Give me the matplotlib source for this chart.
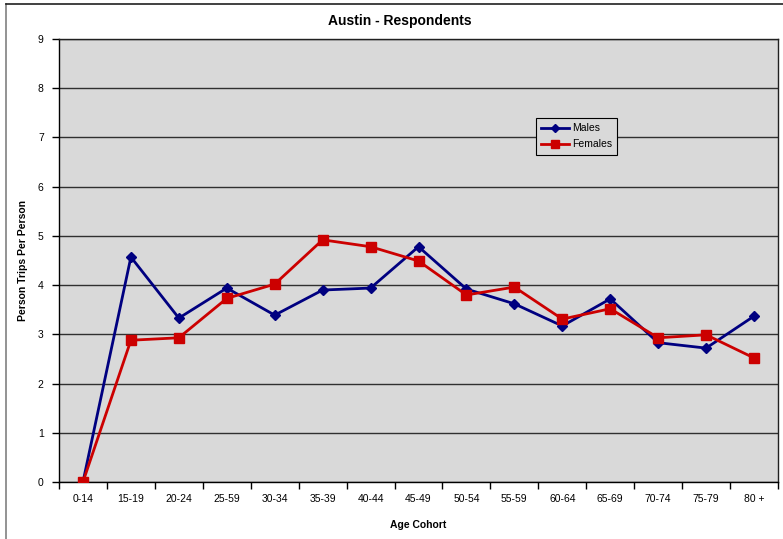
import numpy as np
import matplotlib
matplotlib.use("Agg")
import matplotlib.pyplot as plt
from matplotlib.lines import Line2D

plt.rcParams['font.family'] = ['Liberation Sans', 'DejaVu Sans']

# data
cohorts = ['0-14', '15-19', '20-24', '25-59', '30-34', '35-39', '40-44', '45-49',
           '50-54', '55-59', '60-64', '65-69', '70-74', '75-79', '80 +']
males = [0.0, 4.57, 3.33, 3.94, 3.39, 3.90, 3.94, 4.78, 3.92, 3.62, 3.17, 3.72, 2.83, 2.72, 3.37]
females = [0.0, 2.88, 2.93, 3.73, 4.02, 4.92, 4.78, 4.49, 3.80, 3.96, 3.31, 3.52, 2.93, 2.99, 2.52]

W, H = 783, 539
fig = plt.figure(figsize=(W / 100, H / 100), dpi=100)
ax = fig.add_axes([59 / W, 1 - 482 / H, (778 - 59) / W, (482 - 39) / H])
ax.set_facecolor('#D9D9D9')

x = np.arange(len(cohorts))
ax.plot(x, males, color='#000080', lw=2, marker='D', ms=5.5, label='Males', zorder=3)
ax.plot(x, females, color='#CC0000', lw=2, marker='s', ms=7, label='Females', zorder=4)

ax.set_xlim(-0.5, len(cohorts) - 0.5)
ax.set_ylim(0, 9)
ax.set_yticks(range(0, 10))
ax.yaxis.grid(True, color='#303030', lw=1)
ax.set_axisbelow(True)

# ticks at category boundaries, labels centered
ax.set_xticks(np.arange(-0.5, len(cohorts), 1))
ax.set_xticklabels([])
ax.set_xticks(x, minor=True)
ax.set_xticklabels(cohorts, minor=True, fontsize=7.5)
ax.tick_params(axis='x', which='minor', length=0, pad=9)
ax.tick_params(axis='x', which='major', length=5, direction='out', width=1)
ax.tick_params(axis='y', length=5, direction='out', width=1, labelsize=7.5, pad=6)

for s in ax.spines.values():
    s.set_color('#202020')
    s.set_linewidth(1)
ax.spines['left'].set_color('black')
ax.spines['bottom'].set_color('black')

ax.set_xlabel('Age Cohort', fontsize=7.5, fontweight='bold')
ax.xaxis.set_label_coords(0.5, -0.085)
ax.set_ylabel('Person Trips Per Person', fontsize=7.5, fontweight='bold')
ax.yaxis.set_label_coords(-0.043, 0.5)

fig.text(400 / W, 1 - 21 / H, 'Austin - Respondents', ha='center', va='center',
         fontsize=10, fontweight='bold')

handles = [Line2D([], [], color='#000080', lw=2, marker='D', ms=4),
           Line2D([], [], color='#CC0000', lw=2, marker='s', ms=5.5)]
leg = ax.legend(handles, ['Males', 'Females'], loc='upper left',
                bbox_to_anchor=(536 / W, 1 - 118 / H), bbox_transform=fig.transFigure,
                fontsize=7.5, frameon=True, fancybox=False, handlelength=2.7,
                handletextpad=0.25, borderpad=0.5, labelspacing=0.6, borderaxespad=0)
leg.get_frame().set_edgecolor('black')
leg.get_frame().set_facecolor('#D9D9D9')
leg.get_frame().set_linewidth(0.8)
leg.get_frame().set_alpha(1)
leg.set_zorder(10)

# chart area border
fig.add_artist(Line2D([5.5 / W, 5.5 / W], [0, 1 - 4 / H], transform=fig.transFigure,
                     color='#808080', lw=1.2))
fig.add_artist(Line2D([5.5 / W, 1], [1 - 4 / H, 1 - 4 / H], transform=fig.transFigure,
                     color='#202020', lw=1.2))

fig.savefig('out.png', dpi=100)
